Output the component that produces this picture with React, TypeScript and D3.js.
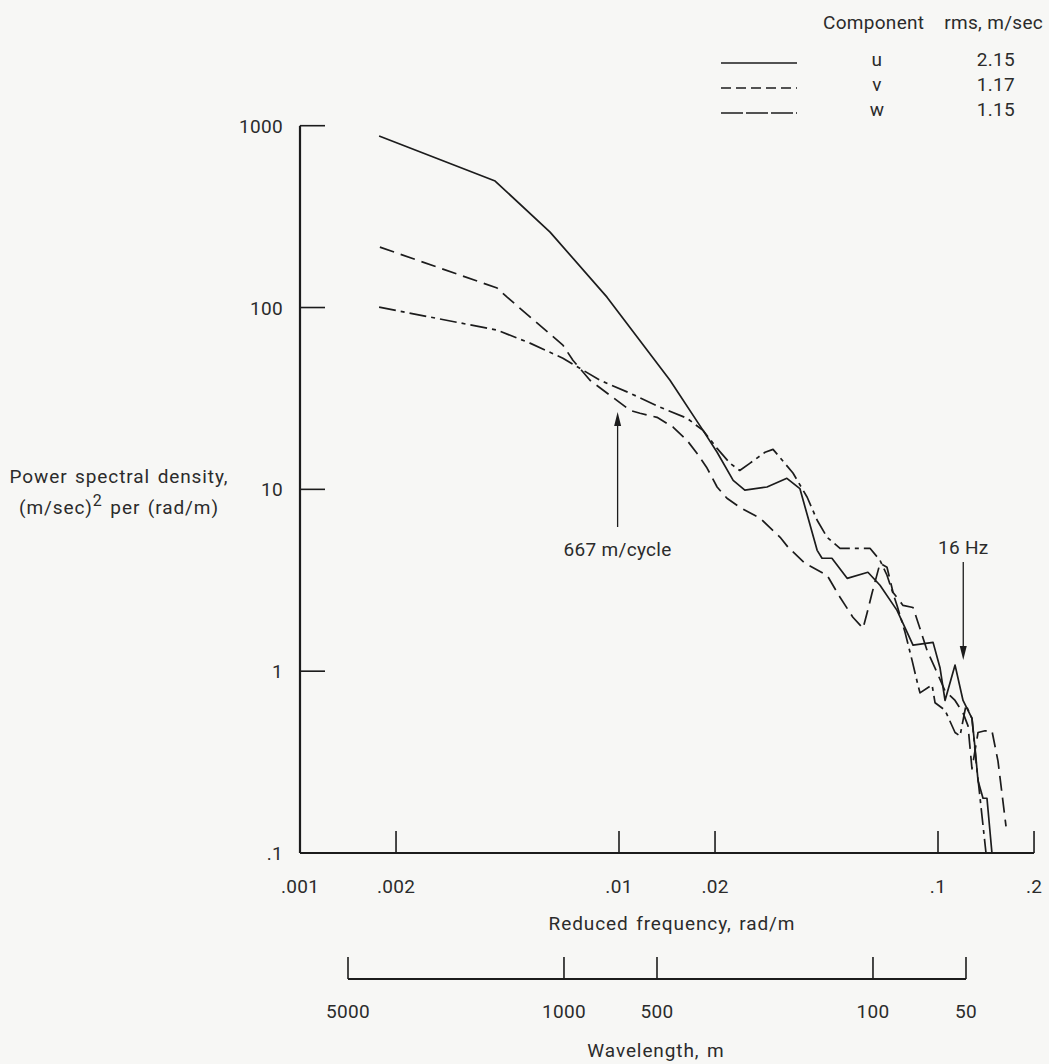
import React from 'react';
import * as d3 from 'd3';

// reduced frequency (rad/m), power spectral density ((m/sec)^2 per rad/m)
const uData: [number, number][] = [
  [0.00177, 878], [0.00409, 496], [0.00608, 260], [0.00917, 114], [0.01445, 39.8],
  [0.01834, 21.1], [0.0203, 16.0], [0.0228, 11.2], [0.0248, 9.9], [0.0291, 10.3],
  [0.0336, 11.5], [0.0369, 10.1], [0.0418, 4.62], [0.0433, 4.18], [0.0465, 4.18],
  [0.0519, 3.24], [0.0603, 3.5], [0.0658, 2.97], [0.0744, 2.16], [0.0835, 1.39],
  [0.0965, 1.44], [0.1015, 1.04], [0.1052, 0.69], [0.1131, 1.08], [0.1198, 0.69],
  [0.1278, 0.55], [0.1306, 0.38], [0.1335, 0.25], [0.1384, 0.2], [0.1424, 0.2],
  [0.1476, 0.1],
];

const vData: [number, number][] = [
  [0.00178, 215], [0.00415, 128], [0.00446, 114], [0.00667, 62.1], [0.00717, 51.3],
  [0.00811, 39.8], [0.01083, 27.2], [0.01164, 26.2], [0.01316, 24.9], [0.01477, 22.0],
  [0.01634, 18.6], [0.01755, 15.8], [0.01888, 13.1], [0.0203, 10.3], [0.0218, 8.93],
  [0.0239, 7.97], [0.0277, 6.93], [0.032, 5.45], [0.0339, 4.8], [0.0383, 3.92],
  [0.0449, 3.37], [0.0493, 2.55], [0.0541, 1.98], [0.0582, 1.72], [0.0599, 2.08],
  [0.0621, 2.68], [0.0658, 3.92], [0.0692, 3.73], [0.0723, 2.71], [0.0777, 2.3],
  [0.0835, 2.24], [0.0865, 1.86], [0.0924, 1.3], [0.0979, 1.04], [0.1052, 0.78],
  [0.1131, 0.69], [0.1198, 0.59], [0.1242, 0.5], [0.1278, 0.29], [0.1335, 0.46],
  [0.1404, 0.47], [0.1476, 0.47], [0.1542, 0.32], [0.1634, 0.14],
];

const wData: [number, number][] = [
  [0.00177, 100.5], [0.00415, 75.1], [0.00526, 63.7], [0.00667, 52.6], [0.00872, 39.8],
  [0.01083, 33.8], [0.01345, 28.3], [0.01634, 24.6], [0.01834, 21.1], [0.0203, 16.8],
  [0.0223, 13.9], [0.0239, 12.7], [0.0257, 13.9], [0.0287, 16.0], [0.0304, 16.6],
  [0.0351, 12.3], [0.0389, 9.05], [0.0418, 6.76], [0.0449, 5.45], [0.0493, 4.74],
  [0.0612, 4.74], [0.0658, 4.07], [0.0692, 3.37], [0.0744, 2.3], [0.0788, 1.64],
  [0.0829, 1.15], [0.0865, 0.84], [0.0878, 0.76], [0.0958, 0.84], [0.0979, 0.67],
  [0.1052, 0.61], [0.1131, 0.46], [0.1172, 0.44], [0.1224, 0.65], [0.1278, 0.55],
  [0.1316, 0.32], [0.1355, 0.2], [0.1414, 0.1],
];

const freqTicks = [0.001, 0.002, 0.01, 0.02, 0.1, 0.2];
const freqTickLabels = ['.001', '.002', '.01', '.02', '.1', '.2'];
const psdTicks = [1000, 100, 10, 1, 0.1];
const psdTickLabels = ['1000', '100', '10', '1', '.1'];
const waveTicks = [5000, 1000, 500, 100, 50];

const series = [
  { name: 'u', rms: '2.15', data: uData, dash: 'none', legendDash: 'none' },
  { name: 'v', rms: '1.17', data: vData, dash: '15 7', legendDash: '10 5' },
  { name: 'w', rms: '1.15', data: wData, dash: '17 5 4 5', legendDash: '22 3' },
];

const annotations = [
  { k: 0.0099, label: '667 m/cycle', dir: 'up' },
  { k: 0.12, label: '16 Hz', dir: 'down' },
];

const FONT = "Roboto, 'Noto Sans', sans-serif";
const INK = '#1c1c1c';
const TXT = '#2b2b2b';

export default function App() {
  const W = 1049, H = 1064;
  const x = d3.scaleLog().domain([0.001, 0.1]).range([300, 938]);
  const y = d3.scaleLog().domain([0.1, 1000]).range([853, 125.7]);
  const wl = d3.scaleLog().domain([5000, 50]).range([348, 966]);
  const line = d3.line<[number, number]>().x(d => x(d[0])).y(d => y(d[1]));

  const x0 = x(0.001), x1 = x(0.2);
  const yBot = y(0.1), yTop = y(1000);
  const wlY = 979;

  const txt = { fontFamily: FONT, fontSize: 19, fill: TXT, letterSpacing: 0.3 } as React.CSSProperties;
  const title = { ...txt, letterSpacing: 0.9, wordSpacing: 2 } as React.CSSProperties;

  return (
    <svg width={W} height={H} style={{ position: 'absolute', left: 0, top: 0, display: 'block' }}>
      <rect width={W} height={H} fill="#f7f7f5" />

      {/* axes */}
      <line x1={x0} y1={yTop} x2={x0} y2={yBot} stroke={INK} strokeWidth={2.2} />
      <line x1={x0} y1={yBot} x2={x1} y2={yBot} stroke={INK} strokeWidth={2.2} />
      {psdTicks.filter(t => t > 0.1).map(t => (
        <line key={t} x1={x0} x2={x0 + 25} y1={y(t)} y2={y(t)} stroke={INK} strokeWidth={1.6} />
      ))}
      {freqTicks.filter(t => t > 0.001).map(t => (
        <line key={t} x1={x(t)} x2={x(t)} y1={yBot} y2={yBot - 22} stroke={INK} strokeWidth={1.6} />
      ))}
      {psdTicks.map((t, i) => (
        <text key={t} x={283} y={y(t) + 7} textAnchor="end" style={txt}>{psdTickLabels[i]}</text>
      ))}
      {freqTicks.map((t, i) => (
        <text key={t} x={x(t)} y={893} textAnchor="middle" style={txt}>{freqTickLabels[i]}</text>
      ))}
      <text x={672} y={930} textAnchor="middle" style={title}>Reduced frequency, rad/m</text>

      <text x={119} y={483} textAnchor="middle" style={title}>Power spectral density,</text>
      <text x={119} y={514} textAnchor="middle" style={title}>
        (m/sec)<tspan dy={-8} fontSize={16}>2</tspan><tspan dy={8}> per (rad/m)</tspan>
      </text>

      {/* wavelength axis */}
      <line x1={wl(5000)} x2={wl(50)} y1={wlY} y2={wlY} stroke={INK} strokeWidth={2.2} />
      {waveTicks.map(t => (
        <g key={t}>
          <line x1={wl(t)} x2={wl(t)} y1={wlY} y2={wlY - 22} stroke={INK} strokeWidth={1.6} />
          <text x={wl(t)} y={1018} textAnchor="middle" style={txt}>{t}</text>
        </g>
      ))}
      <text x={656} y={1057} textAnchor="middle" style={title}>Wavelength, m</text>

      {/* curves */}
      {series.map(s => (
        <path key={s.name} d={line(s.data) || ''} fill="none" stroke={INK} strokeWidth={1.7}
          strokeDasharray={s.dash} strokeLinejoin="round" />
      ))}

      {/* annotations */}
      {annotations.map(a => {
        const ax = x(a.k);
        if (a.dir === 'up') {
          return (
            <g key={a.label}>
              <line x1={ax} x2={ax} y1={527} y2={420} stroke={INK} strokeWidth={1.3} />
              <path d={`M${ax},412 L${ax - 3.5},426 L${ax + 3.5},426 Z`} fill={INK} />
              <text x={ax} y={556} textAnchor="middle" style={txt}>{a.label}</text>
            </g>
          );
        }
        return (
          <g key={a.label}>
            <text x={ax} y={554} textAnchor="middle" style={txt}>{a.label}</text>
            <line x1={ax} x2={ax} y1={562} y2={652} stroke={INK} strokeWidth={1.3} />
            <path d={`M${ax},660 L${ax - 3.5},646 L${ax + 3.5},646 Z`} fill={INK} />
          </g>
        );
      })}

      {/* legend */}
      <text x={823} y={29} style={txt}>Component</text>
      <text x={1043} y={29} textAnchor="end" style={txt}>rms, m/sec</text>
      {series.map((s, i) => {
        const ly = 64 + i * 25;
        return (
          <g key={s.name}>
            <line x1={721} x2={797} y1={ly - 1} y2={ly - 1} stroke={INK} strokeWidth={1.4}
              strokeDasharray={s.legendDash} />
            <text x={877} y={ly + 2} textAnchor="middle" style={txt}>{s.name}</text>
            <text x={1015} y={ly + 2} textAnchor="end" style={txt}>{s.rms}</text>
          </g>
        );
      })}
    </svg>
  );
}
